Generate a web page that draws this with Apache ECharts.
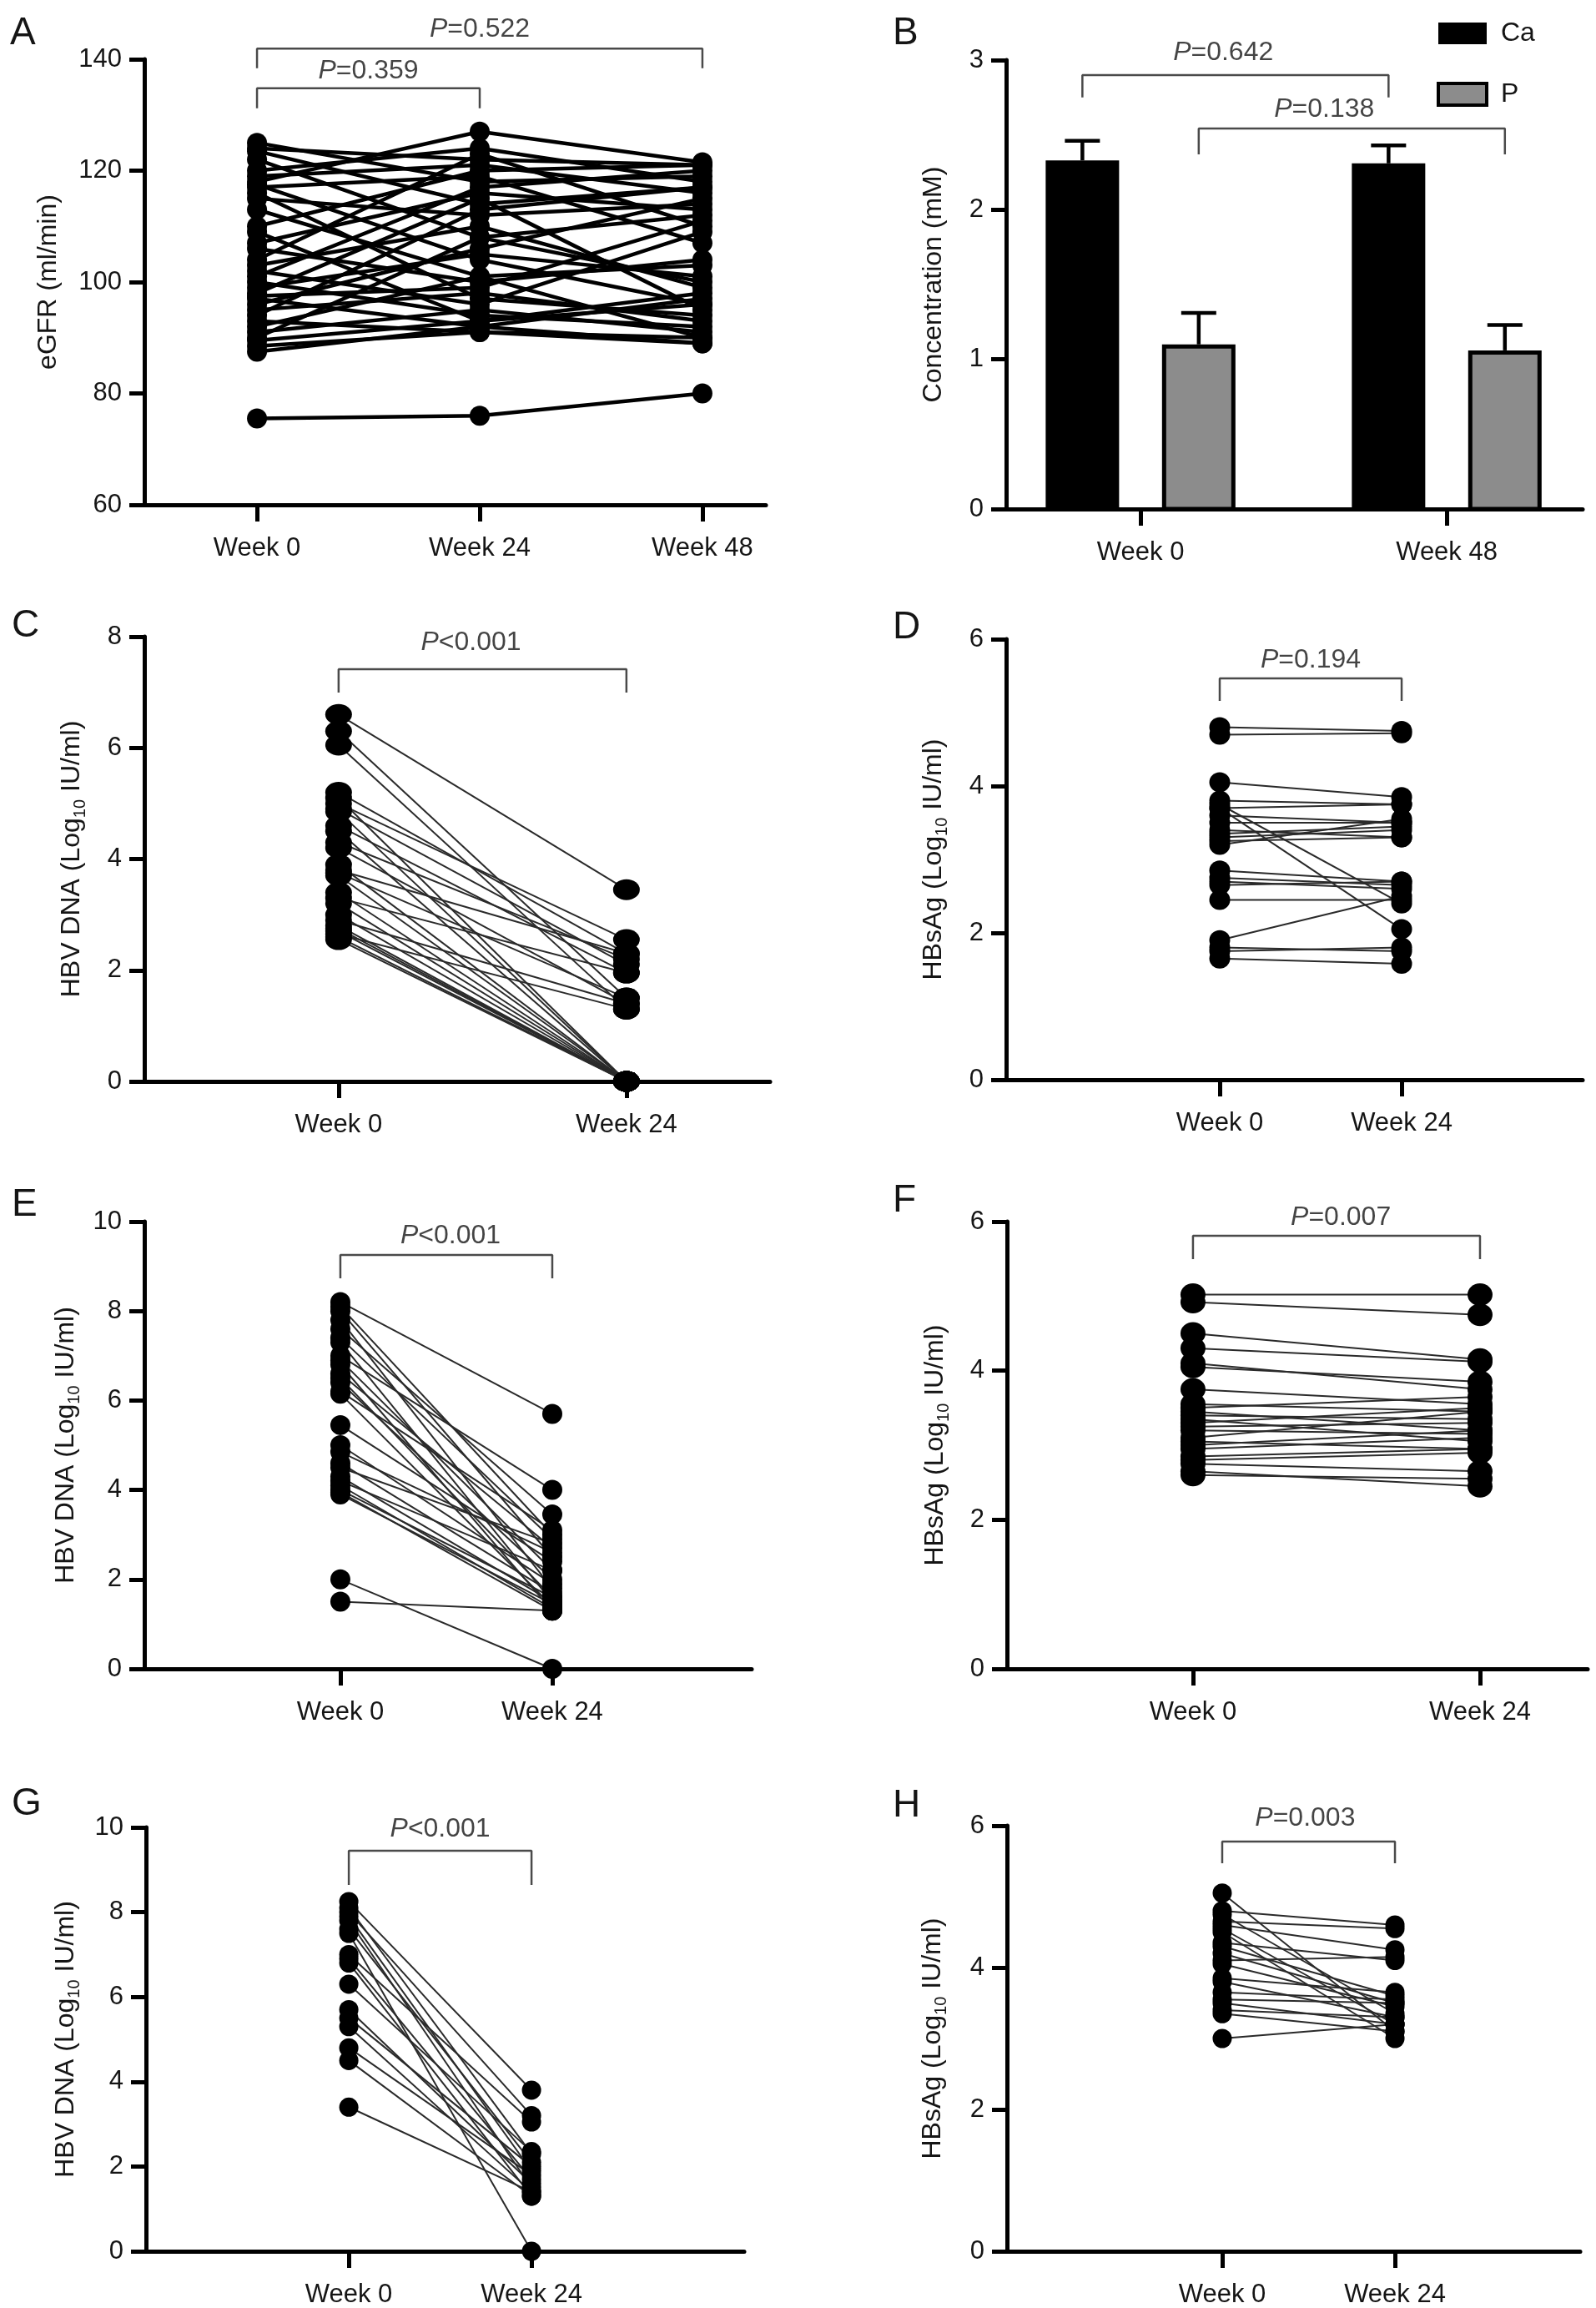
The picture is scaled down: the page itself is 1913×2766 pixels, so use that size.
<!DOCTYPE html>
<html><head><meta charset="utf-8">
<script src="https://cdn.jsdelivr.net/npm/echarts@6/dist/echarts.min.js"></script>
<style>html,body{margin:0;padding:0;background:#fff}#c{width:1913px;height:2766px}</style>
</head><body><div id="c"></div>
<script>
// ---------------- DATA ----------------
// Panel A: eGFR (ml/min), one value per subject at each visit
const catsA = ['Week 0', 'Week 24', 'Week 48'];
const egfrW0  = [125,124,123.5,122,120,119,118,117.5,117,116,115,113,110,109,107,106,104,103,102,101,100,99,98,97.5,97,96,95,94,93,92,91,90,89.5,88.5,87.5,75.5];
const egfrW24 = [118,122,114,108,124,121,127,104,119,97,112,101,120,93,116,100,123,110,96,117,94,105,115,99,92,106,98,113,91,101,95,108,93,91,92,76];
const egfrW48 = [119,121,117,112,118,116,121.5,96,107,94,114,90,121,98,113,104,110,99,109,120,92,101,95,111,97,115,93,117,89,103,91,100,96,90,89,80];
const ticksA = [60, 140, 20];

// Panel B: Ca and P concentration (mM), mean and SD
const catsB = ['Week 0', 'Week 48'];
const caMean = [2.33, 2.31];
const caSD   = [0.13, 0.12];
const pMean  = [1.10, 1.06];
const pSD    = [0.21, 0.17];
const ticksB = [0, 3, 1];

// Panels C-H: two visits
const cats2 = ['Week 0', 'Week 24'];
const hbvC_W0  = [6.6,6.3,6.05,5.2,5.1,5.0,4.9,4.85,4.6,4.5,4.3,4.2,3.9,3.8,3.75,3.7,3.4,3.3,3.2,3.0,2.9,2.8,2.75,2.7,2.65,2.6,2.55];
const hbvC_W24 = [3.45,1.5,1.3,2.3,0,2.55,2.1,0,1.95,0,2.2,1.4,0,2.3,1.5,0,0,1.95,0,0,1.4,0,0,0,1.3,0,0];
const hbsD_W0  = [4.8,4.7,4.05,3.8,3.75,3.7,3.7,3.6,3.5,3.4,3.35,3.3,3.25,3.2,2.85,2.75,2.7,2.65,2.45,1.9,1.8,1.75,1.65];
const hbsD_W24 = [4.75,4.72,3.85,3.75,2.4,2.05,3.75,3.5,3.5,3.3,3.45,3.4,3.3,3.55,2.7,2.65,2.6,2.7,2.45,2.5,1.75,1.8,1.58];
const hbvE_W0  = [8.2,8.1,8.0,7.8,7.6,7.4,7.3,7.0,6.9,6.8,6.6,6.5,6.4,6.2,6.15,5.45,5.0,4.85,4.6,4.5,4.3,4.2,4.1,4.0,3.95,3.9,2.0,1.5];
const hbvE_W24 = [5.7,3.0,2.5,1.8,3.45,2.9,1.5,4.0,2.2,1.3,2.7,1.6,2.0,3.1,1.4,2.4,1.9,2.6,1.7,2.8,1.5,2.2,1.35,1.6,1.3,1.45,0,1.3];
const hbsF_W0  = [5.02,4.92,4.5,4.3,4.1,4.05,3.75,3.55,3.5,3.45,3.4,3.35,3.3,3.25,3.2,3.1,3.05,3.0,2.95,2.85,2.8,2.75,2.65,2.6];
const hbsF_W24 = [5.02,4.75,4.15,4.12,3.75,3.85,3.55,3.45,3.65,3.2,3.35,3.05,3.5,3.3,3.15,3.45,2.95,3.2,3.1,2.95,2.9,2.65,2.45,2.55];
const hbvG_W0  = [8.25,8.1,8.0,7.9,7.8,7.5,7.6,7.0,6.9,6.8,6.3,5.7,5.5,5.3,4.8,4.5,3.4];
const hbvG_W24 = [3.8,2.3,3.2,1.9,1.5,0,2.1,3.05,1.7,1.3,2.35,1.6,2.0,1.4,1.8,1.3,1.4];
const hbsH_W0  = [5.05,4.8,4.75,4.65,4.6,4.55,4.5,4.35,4.3,4.2,4.1,4.05,3.85,3.8,3.65,3.55,3.5,3.4,3.35,3.0];
const hbsH_W24 = [3.1,4.6,3.35,4.55,4.25,3.2,3.0,4.1,3.6,3.5,4.15,3.45,3.65,3.3,3.55,3.5,3.2,3.3,3.1,3.2];
const ticksDNA8 = [0, 8, 2];
const ticksDNA10 = [0, 10, 2];
const ticksHBs = [0, 6, 2];

// P-value annotations
const pA = [[0, 2, '=0.522'], [0, 1, '=0.359']];
const pB = [['Ca', '=0.642'], ['P', '=0.138']];
const pC = '<0.001', pD = '=0.194', pE = '<0.001', pF = '=0.007', pG = '<0.001', pH = '=0.003';

// ---------------- STYLE / LAYOUT ----------------
const FONT = '"Liberation Sans", Arial, sans-serif';
const TXT = '#151515';
const FS = 31;      // tick labels
const FSP = 32;     // p-value labels
const FSN = 32;     // axis titles
const grids = [], xAxes = [], yAxes = [], series = [], graphics = [];

function nameStyle() {
  return {fontSize: FSN, color: TXT, fontFamily: FONT, lineHeight: 40,
    rich: {sub: {fontSize: 20, lineHeight: 20, verticalAlign: 'bottom', color: TXT, fontFamily: FONT}}};
}

function addGrid(g, xMin, xMax, cats, ticks, yName, nameGap) {
  const gi = grids.length;
  grids.push({left: g[0], top: g[1], width: g[2], height: g[3]});
  const tv = cats.map((c, i) => i);
  xAxes.push({gridIndex: gi, type: 'value', min: xMin, max: xMax,
    axisLine: {show: true, onZero: false, lineStyle: {color: '#000', width: 5}},
    axisTick: {show: true, customValues: tv, length: 20, lineStyle: {color: '#000', width: 5}},
    axisLabel: {customValues: tv, formatter: v => cats[Math.round(v)], margin: 37, fontSize: FS, color: TXT, fontFamily: FONT},
    splitLine: {show: false}});
  yAxes.push({gridIndex: gi, type: 'value', min: ticks[0], max: ticks[1], interval: ticks[2],
    name: yName, nameLocation: 'middle', nameGap: nameGap, nameTextStyle: nameStyle(),
    axisLine: {show: true, onZero: false, lineStyle: {color: '#000', width: 5}},
    axisTick: {show: true, length: 18, lineStyle: {color: '#000', width: 5}},
    axisLabel: {margin: 27, fontSize: FS, color: TXT, fontFamily: FONT},
    splitLine: {show: false}});
  return gi;
}

function addBracket(gi, x0, x1, yTop, yEnd, xText, yText, txt) {
  series.push({type: 'line', xAxisIndex: gi, yAxisIndex: gi, clip: false, silent: true, animation: false,
    symbol: 'none', lineStyle: {color: '#4a4a4a', width: 2.5}, z: 5,
    data: [[x0, yEnd], [x0, yTop], [x1, yTop], [x1, yEnd]]});
  series.push({type: 'scatter', xAxisIndex: gi, yAxisIndex: gi, clip: false, silent: true, animation: false,
    symbolSize: 0, itemStyle: {color: 'rgba(0,0,0,0)'}, z: 6,
    data: [[xText, yText]],
    label: {show: true, position: 'inside', formatter: '{i|P}' + txt, fontSize: FSP, color: TXT, fontFamily: FONT,
      rich: {i: {fontStyle: 'italic', fontSize: FSP, color: TXT, fontFamily: FONT}}}});
}

function addPaired(gi, cols, sym, lineW, lineC) {
  const n = cols[0].length;
  for (let i = 0; i < n; i++) {
    series.push({type: 'line', xAxisIndex: gi, yAxisIndex: gi, silent: true, animation: false,
      symbol: 'none', lineStyle: {color: lineC, width: lineW}, z: 2,
      data: cols.map((col, k) => [k, col[i]])});
  }
  cols.forEach((col, k) => {
    series.push({type: 'scatter', xAxisIndex: gi, yAxisIndex: gi, silent: true, animation: false,
      symbol: 'circle', symbolSize: sym, itemStyle: {color: '#000', opacity: 1}, z: 3,
      data: col.map(v => [k, v])});
  });
}

function letter(t, x, y) {
  graphics.push({type: 'text', left: x, top: y, style: {text: t, fontSize: 46, fontFamily: FONT, fill: TXT}});
}

// ---- Panel A ----
let g = addGrid([173, 71, 745, 534], -0.506, 2.285, catsA, ticksA, 'eGFR (ml/min)', 95);
addPaired(g, [egfrW0, egfrW24, egfrW48], 24, 4.5, '#000');
addBracket(g, pA[0][0], pA[0][1], 141.9, 138.4, 1.0, 145.4, pA[0][2]);
addBracket(g, pA[1][0], pA[1][1], 134.8, 131.2, 0.5, 137.9, pA[1][2]);
letter('A', 12, 17);

// ---- Panel B ----
g = addGrid([1206, 72, 691, 538], -0.439, 1.444, catsB, ticksB, 'Concentration (mM)', 67);
const OFF = 0.19;
function barRender(offset, fill) {
  return function (params, api) {
    const x = api.value(0), v = api.value(1), e = api.value(2);
    const top = api.coord([x + offset, v]);
    const base = api.coord([x + offset, 0]);
    const err = api.coord([x + offset, v + e]);
    const w = 88;
    return {type: 'group', children: [
      {type: 'line', shape: {x1: top[0], y1: top[1], x2: err[0], y2: err[1]}, style: {stroke: '#000', lineWidth: 4.5}},
      {type: 'line', shape: {x1: err[0] - 21, y1: err[1], x2: err[0] + 21, y2: err[1]}, style: {stroke: '#000', lineWidth: 4.5}},
      {type: 'rect', shape: {x: top[0] - w / 2 + 2.5, y: top[1] + 2.5, width: w - 5, height: base[1] - top[1] - 2.5},
        style: {fill: fill, stroke: '#000', lineWidth: 5}}
    ]};
  };
}
series.push({type: 'custom', name: 'Ca', xAxisIndex: g, yAxisIndex: g, silent: true, animation: false, clip: false,
  itemStyle: {color: '#000'}, renderItem: barRender(-OFF, '#000'),
  data: catsB.map((c, i) => [i, caMean[i], caSD[i]])});
series.push({type: 'custom', name: 'P', xAxisIndex: g, yAxisIndex: g, silent: true, animation: false, clip: false,
  itemStyle: {color: '#8c8c8c'}, renderItem: barRender(OFF, '#8c8c8c'),
  data: catsB.map((c, i) => [i, pMean[i], pSD[i]])});
addBracket(g, -OFF, 1 - OFF, 2.9, 2.75, 0.27, 3.05, pB[0][1]);
addBracket(g, OFF, 1 + OFF, 2.543, 2.37, 0.6, 2.67, pB[1][1]);
letter('B', 1070, 17);

// ---- Panel C ----
g = addGrid([173, 763, 750, 533], -0.675, 1.499, cats2, ticksDNA8, 'HBV DNA (Log{sub|10} IU/ml)', 67);
addPaired(g, [hbvC_W0, hbvC_W24], [32, 25], 2, '#2a2a2a');
addBracket(g, 0, 1, 7.414, 6.994, 0.46, 7.895, pC);
letter('C', 14, 727);

// ---- Panel D ----
g = addGrid([1206, 766, 691, 528], -1.174, 1.995, cats2, ticksHBs, 'HBsAg (Log{sub|10} IU/ml)', 67);
addPaired(g, [hbsD_W0, hbsD_W24], [25, 24], 2, '#2a2a2a');
addBracket(g, 0, 1, 5.466, 5.159, 0.5, 5.716, pD);
letter('D', 1070, 729);

// ---- Panel E ----
g = addGrid([173, 1464, 728, 536], -0.925, 1.941, cats2, ticksDNA10, 'HBV DNA (Log{sub|10} IU/ml)', 74);
addPaired(g, [hbvE_W0, hbvE_W24], 24, 2, '#2a2a2a');
addBracket(g, 0, 1, 9.254, 8.731, 0.52, 9.683, pE);
letter('E', 14, 1421);

// ---- Panel F ----
g = addGrid([1207, 1464, 696, 536], -0.648, 1.375, cats2, ticksHBs, 'HBsAg (Log{sub|10} IU/ml)', 66);
addPaired(g, [hbsF_W0, hbsF_W24], [30, 27], 2, '#2a2a2a');
addBracket(g, 0, 1, 5.81, 5.496, 0.515, 6.056, pF);
letter('F', 1070, 1416);

// ---- Panel G ----
g = addGrid([175, 2190, 717, 509], -1.11, 2.164, cats2, ticksDNA10, 'HBV DNA (Log{sub|10} IU/ml)', 76);
addPaired(g, [hbvG_W0, hbvG_W24], 23, 2, '#2a2a2a');
addBracket(g, 0, 1, 9.45, 8.644, 0.5, 9.96, pG);
letter('G', 14, 2139);

// ---- Panel H ----
g = addGrid([1207, 2188, 687, 511], -1.246, 2.072, cats2, ticksHBs, 'HBsAg (Log{sub|10} IU/ml)', 69);
addPaired(g, [hbsH_W0, hbsH_W24], 23, 2, '#2a2a2a');
addBracket(g, 0, 1, 5.777, 5.472, 0.48, 6.106, pH);
letter('H', 1070, 2141);

const chart = echarts.init(document.getElementById('c'), null, {renderer: 'canvas'});
chart.setOption({
  backgroundColor: '#fff',
  animation: false,
  textStyle: {fontFamily: FONT},
  grid: grids, xAxis: xAxes, yAxis: yAxes, series: series, graphic: graphics,
  legend: {orient: 'vertical', left: 1717, top: 18, itemWidth: 58, itemHeight: 26, itemGap: 39,
    icon: 'rect', selectedMode: false,
    textStyle: {fontSize: FSP, color: TXT, fontFamily: FONT, lineHeight: 34, padding: [0, 0, 0, 12]},
    data: [{name: 'Ca', itemStyle: {color: '#000', borderColor: '#000', borderWidth: 0}},
           {name: 'P', itemStyle: {color: '#8c8c8c', borderColor: '#000', borderWidth: 4}}]}
});
</script></body></html>
